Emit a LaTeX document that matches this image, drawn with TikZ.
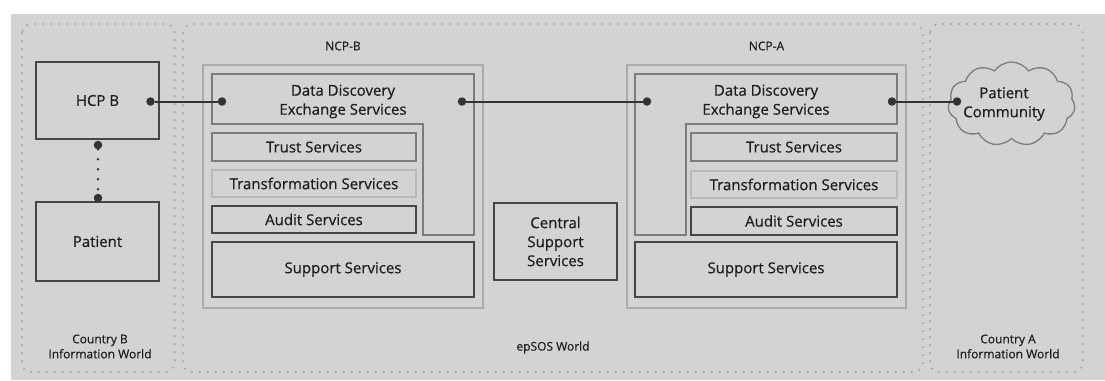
\documentclass[tikz,border=0pt]{standalone}
\usepackage{fontspec}
\setmainfont{Open Sans}[FakeBold=0.6]
\usetikzlibrary{shapes.symbols}
\definecolor{bg}{HTML}{D3D3D3}
\definecolor{edge}{HTML}{7C7C7C}
\definecolor{darkedge}{HTML}{464646}
\definecolor{lightedge}{HTML}{ABABAB}
\definecolor{paleedge}{HTML}{B9B9B9}
\definecolor{ink}{HTML}{1E1E1E}
\definecolor{dotgray}{HTML}{9C9C9C}
\definecolor{wire}{HTML}{333333}

\begin{document}
\begin{tikzpicture}[x=1pt,y=-1pt,
  every node/.style={text=ink, font=\fontsize{15}{19}\selectfont, outer sep=0pt, inner sep=0pt},
  small/.style={font=\fontsize{12}{15}\selectfont, align=center},
  region/.style={draw=dotgray, line width=2pt, dash pattern=on 0pt off 8pt, line cap=round, rounded corners=9pt},
  ncp/.style={draw=lightedge, line width=2pt},
  svc/.style={draw=edge, line width=1.3pt, anchor=north west},
  palesvc/.style={svc, draw=paleedge},
  auditsvc/.style={svc, draw=darkedge, line width=1.8pt},
  darkbox/.style={draw=darkedge, line width=1.4pt, anchor=north west},
  port/.style={circle, fill=wire, minimum size=8.5pt},
  wireline/.style={draw=wire, line width=2pt},
  chain/.style={draw=wire, line width=2.6pt, dash pattern=on 0pt off 10pt, line cap=round}
]
\useasboundingbox (0,0) rectangle (1105,380);
\fill[white] (0,0) rectangle (1105,380);
\fill[bg] (11,14) rectangle (1105,380);

% information worlds
\draw[region] (22,24) rectangle (175,372);
\draw[region] (183,24) rectangle (923,372);
\draw[region] (930,24) rectangle (1083,372);
\node[small] (cB) at (100,346.5) {Country B\\Information World};
\node[small] (eW) at (553,347.5) {epSOS World};
\node[small] (cA) at (1008,346.5) {Country A\\Information World};

% country B
\node[darkbox, minimum width=123, minimum height=77] (hcp) at (36,62) {HCP B};
\node[darkbox, minimum width=123, minimum height=79] (pat) at (36,202) {Patient};
\node[port] (hcpdown) at (98,145) {};
\node[port] (patup) at (98,198) {};
\node[port] (hcpout) at (150.5,101.5) {};

% NCP-B
\node[small] (ncpBlabel) at (343,46) {NCP-B};
\draw[ncp] (203,65) rectangle (483,308);
\draw[edge, line width=1.3pt] (212,74) -- (474,74) -- (474,235) -- (423,235) -- (423,124) -- (212,124) -- cycle;
\node[align=center] (ddesB) at (343,101.5) {Data Discovery\\Exchange Services};
\node[port] (bIn) at (222,101.5) {};
\node[port] (bOut) at (462,101.5) {};
\node[svc, minimum width=204, minimum height=28] (trustB) at (212,133) {Trust Services};
\node[palesvc, minimum width=204, minimum height=27] (transB) at (212,170) {Transformation Services};
\node[auditsvc, minimum width=204, minimum height=27] (auditB) at (212,206) {Audit Services};
\node[darkbox, minimum width=262, minimum height=55] (suppB) at (212,242) {Support Services};

% central services
\node[darkbox, minimum width=123, minimum height=77, align=center] (central) at (494,203) {Central\\Support\\Services};

% NCP-A
\node[small] (ncpAlabel) at (766.5,46) {NCP-A};
\draw[ncp] (627,65) rectangle (906,308);
\draw[edge, line width=1.3pt] (897,74) -- (635,74) -- (635,235) -- (686,235) -- (686,124) -- (897,124) -- cycle;
\node[align=center] (ddesA) at (766,101.5) {Data Discovery\\Exchange Services};
\node[port] (aIn) at (647,101.5) {};
\node[port] (aOut) at (892,101.5) {};
\node[svc, minimum width=206, minimum height=28] (trustA) at (691,133) {Trust Services};
\node[palesvc, minimum width=206, minimum height=27] (transA) at (691,171) {Transformation Services};
\node[auditsvc, minimum width=206, minimum height=28] (auditA) at (691,207) {Audit Services};
\node[darkbox, minimum width=262, minimum height=55] (suppA) at (635,242) {Support Services};

% country A
\node[cloud, draw=edge, line width=1.3pt, cloud puffs=11, cloud puff arc=110, aspect=1.5,
      minimum width=127, minimum height=84] (comm) at (1011.5,104) {};
\node[align=center] (commtext) at (1004,104) {Patient\\Community};
\node[port] (cIn) at (957,101.5) {};

% connectors
\draw[wireline] (hcpout) -- (bIn);
\draw[wireline] (bOut) -- (aIn);
\draw[wireline] (aOut) -- (cIn);
\draw[chain] (hcpdown) -- (patup);
\end{tikzpicture}
\end{document}
